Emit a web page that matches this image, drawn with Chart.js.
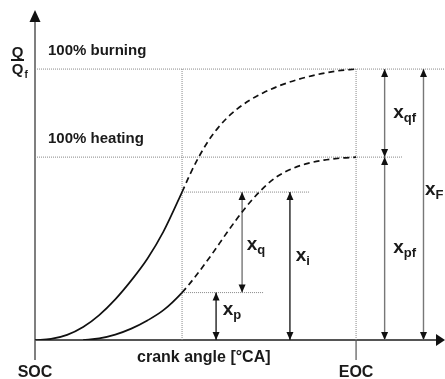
<!DOCTYPE html>
<html>
<head>
<meta charset="utf-8">
<script src="https://cdn.jsdelivr.net/npm/chart.js@4"></script>
<style>
  html, body { margin: 0; padding: 0; background: #fff; }
  canvas { display: block; }
</style>
</head>
<body>
<canvas id="chart" width="445" height="379"></canvas>
<script>
// Crank angle runs from SOC (0) to EOC (100); the axis keeps going past EOC
const X_MAX = 127.7;
const Y_MAX = 1.218;
const SOC = 0;
const EOC = 100;
const CUT = 45.8;          // current crank angle: solid before, dashed after

const BURN_FULL = 1.0;
const HEAT_FULL = 0.675;
const BURN_AT_CUT = 0.546;
const HEAT_AT_CUT = 0.175;

// Burning curve (Q/Qf)
const burningAngle = [0, 5, 10, 15, 20, 25, 30, 35, 40, CUT, 48.3, 51, 54, 57, 60, 63, 67, 71, 76, 82, 88, 94, EOC];
const burningFrac  = [0, 0.004, 0.019, 0.048, 0.092, 0.150, 0.220, 0.300, 0.400, BURN_AT_CUT, 0.612, 0.675, 0.735, 0.783, 0.822, 0.853, 0.886, 0.912, 0.938, 0.962, 0.980, 0.993, BURN_FULL];

// Heating curve
const heatingAngle = [15, 20, 25, 30, 35, 40, CUT, 50, 55, 60, 65, 70, 75, 80, 85, 90, 95, EOC];
const heatingFrac  = [0, 0.006, 0.020, 0.042, 0.072, 0.110, HEAT_AT_CUT, 0.235, 0.315, 0.400, 0.480, 0.548, 0.600, 0.632, 0.652, 0.664, 0.671, HEAT_FULL];

// Dimension arrows: label subscript, crank angle, from, to, colour
const dimSub   = ['q', 'p', 'i', 'qf', 'pf', 'F'];
const dimAngle = [64.5, 56.4, 79.4, 108.9, 108.9, 121.0];
const dimFrom  = [BURN_AT_CUT, HEAT_AT_CUT, BURN_AT_CUT, BURN_FULL, HEAT_FULL, BURN_FULL];
const dimTo    = [HEAT_AT_CUT, 0, 0, HEAT_FULL, 0, 0];
const dimColor = ['#777', '#222', '#222', '#777', '#777', '#777'];
// label offsets in px from arrow x / middle of arrow
const dimDx = [4.7, 6.7, 5.7, 8.5, 8.5, 1.5];
const dimDy = [8, -1.5, -5, 5, 4.5, -9.5];

// Dotted guide lines: [x0, y0, x1, y1]
const guides = [
  [SOC, BURN_FULL, X_MAX, BURN_FULL],
  [SOC, HEAT_FULL, 114.3, HEAT_FULL],
  [CUT, BURN_AT_CUT, 85.4, BURN_AT_CUT],
  [CUT, HEAT_AT_CUT, 71.3, HEAT_AT_CUT],
  [CUT, 0, CUT, BURN_FULL],
  [EOC, 0, EOC, BURN_FULL]
];

const FONT = '"Liberation Sans", Arial, Helvetica, sans-serif';
const TEXT = '#1a1a1a';

function curve(xs, ys) {
  return {
    data: xs.map((x, i) => ({ x, y: ys[i] })),
    borderColor: '#111',
    borderWidth: 1.7,
    cubicInterpolationMode: 'monotone',
    segment: { borderDash: c => c.p0.parsed.x >= CUT - 0.01 ? [6, 4] : undefined },
    order: 1
  };
}

const datasets = [];
guides.forEach(g => datasets.push({
  data: [{ x: g[0], y: g[1] }, { x: g[2], y: g[3] }],
  borderColor: '#888',
  borderWidth: 1,
  borderDash: [1, 1],
  order: 3
}));
datasets.push(curve(burningAngle, burningFrac));
datasets.push(curve(heatingAngle, heatingFrac));
dimSub.forEach((s, i) => datasets.push({
  data: [{ x: dimAngle[i], y: dimFrom[i] }, { x: dimAngle[i], y: dimTo[i] }],
  borderColor: dimColor[i],
  borderWidth: 1.4,
  dimIndex: i,
  order: 2
}));

function head(ctx, x, y, dx, dy, len, half) {
  // triangle with its tip at (x, y), pointing along (dx, dy)
  ctx.beginPath();
  ctx.moveTo(x, y);
  ctx.lineTo(x - dx * len - dy * half, y - dy * len + dx * half);
  ctx.lineTo(x - dx * len + dy * half, y - dy * len - dx * half);
  ctx.closePath();
  ctx.fill();
}

function subText(ctx, x, y, main, sub, mainPx, subPx) {
  ctx.font = `bold ${mainPx}px ${FONT}`;
  ctx.fillText(main, x, y);
  const w = ctx.measureText(main).width;
  ctx.font = `bold ${subPx}px ${FONT}`;
  ctx.fillText(sub, x + w, y + 4);
}

const axesPlugin = {
  id: 'axes',
  beforeDatasetsDraw(chart) {
    const { ctx, scales: { x, y } } = chart;
    const x0 = x.getPixelForValue(SOC), y0 = y.getPixelForValue(0);
    const top = y.getPixelForValue(Y_MAX), right = x.getPixelForValue(X_MAX);
    ctx.save();
    ctx.strokeStyle = '#555';
    ctx.lineWidth = 1.5;
    ctx.beginPath();
    ctx.moveTo(x0, y0 + 20);
    ctx.lineTo(x0, top + 10);
    ctx.stroke();
    ctx.lineWidth = 2;
    ctx.beginPath();
    ctx.moveTo(x0, y0);
    ctx.lineTo(right - 8, y0);
    ctx.stroke();
    // EOC tick below the axis
    const xe = x.getPixelForValue(EOC);
    ctx.lineWidth = 1.2;
    ctx.beginPath();
    ctx.moveTo(xe, y0);
    ctx.lineTo(xe, y0 + 20);
    ctx.stroke();
    ctx.fillStyle = '#111';
    head(ctx, x0, top, 0, -1, 12, 5.5);
    head(ctx, right, y0, 1, 0, 9, 6);
    ctx.restore();
  },
  afterDatasetsDraw(chart) {
    const { ctx, scales: { x, y } } = chart;
    ctx.save();
    ctx.fillStyle = '#111';
    chart.data.datasets.forEach((ds, di) => {
      if (ds.dimIndex === undefined) return;
      const pts = chart.getDatasetMeta(di).data;
      const a = pts[0], b = pts[1];
      const dir = b.y > a.y ? 1 : -1;
      head(ctx, a.x, a.y, 0, -dir, 8, 3.5);
      head(ctx, b.x, b.y, 0, dir, 8, 3.5);
      const i = ds.dimIndex;
      ctx.fillStyle = TEXT;
      subText(ctx, a.x + dimDx[i], (a.y + b.y) / 2 + dimDy[i], 'x', dimSub[i], 19, 13);
      ctx.fillStyle = '#111';
    });

    ctx.fillStyle = TEXT;
    ctx.textBaseline = 'alphabetic';
    ctx.font = `bold 15px ${FONT}`;
    ctx.fillText('100% burning', 48, y.getPixelForValue(BURN_FULL) - 14);
    ctx.fillText('100% heating', 48, y.getPixelForValue(HEAT_FULL) - 14);

    ctx.font = `bold 16px ${FONT}`;
    ctx.textAlign = 'center';
    const yb = y.getPixelForValue(0);
    ctx.fillText('SOC', x.getPixelForValue(SOC), yb + 37);
    ctx.fillText('EOC', x.getPixelForValue(EOC), yb + 37);
    ctx.textAlign = 'left';
    ctx.fillText('crank angle [°CA]', 137, yb + 22);

    // Q / Qf axis label
    ctx.font = `bold 15px ${FONT}`;
    ctx.textAlign = 'center';
    ctx.fillText('Q', 17.5, 57);
    ctx.fillRect(11, 59, 13, 2);
    ctx.fillText('Q', 17.5, 74);
    ctx.font = `bold 10px ${FONT}`;
    ctx.textAlign = 'left';
    ctx.fillText('f', 24.5, 78);
    ctx.restore();
  }
};

new Chart(document.getElementById('chart'), {
  type: 'line',
  data: { datasets },
  options: {
    responsive: false,
    animation: false,
    layout: { padding: { left: 35, right: 0, top: 10, bottom: 39 } },
    elements: { point: { radius: 0, hoverRadius: 0 }, line: { tension: 0 } },
    scales: {
      x: { type: 'linear', min: 0, max: X_MAX, display: false },
      y: { type: 'linear', min: 0, max: Y_MAX, display: false }
    },
    plugins: { legend: { display: false }, tooltip: { enabled: false } }
  },
  plugins: [axesPlugin]
});
</script>
</body>
</html>
